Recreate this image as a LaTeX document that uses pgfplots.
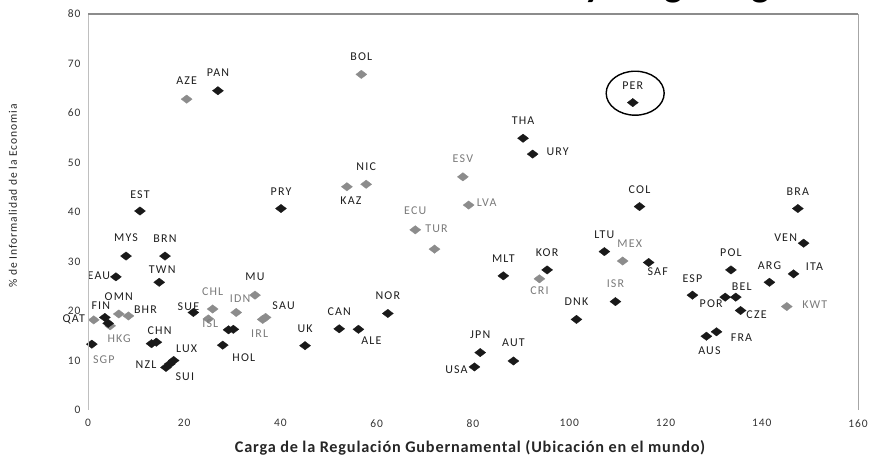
\documentclass[border=0pt]{standalone}
\usepackage{fontspec}
\setmainfont{Carlito}
\newfontfamily\lblfont[LetterSpace=10]{Carlito}
\newfontfamily\tickfont[LetterSpace=8]{Carlito}
\newfontfamily\xlabfont[LetterSpace=5]{Carlito}
\usepackage{pgfplots}
\pgfplotsset{compat=1.18}
\definecolor{graypt}{HTML}{8C8C8C}
\definecolor{lblgray}{HTML}{7A7A7A}
\definecolor{lblblack}{HTML}{1E1E1E}

\pgfplotsset{
  lblpts/.style={
    only marks, mark=diamond*, mark size=4.2bp,
    mark options={xscale=1.75, fill=#1, draw=#1, line width=0.3pt},
    point meta=explicit symbolic,
    nodes near coords,
    visualization depends on={\thisrow{dx}\as\dx},
    visualization depends on={\thisrow{dy}\as\dy},
    every node near coord/.append style={anchor=center, inner sep=0pt, xshift=\dx bp, yshift=\dy bp, font=\lblfont\fontsize{12}{14}\selectfont}
  }
}

\pgfplotstableread{
x y lab dx dy
10.8 40.2 EST 0 16
40.1 40.7 PRY 0 17
27.0 64.5 PAN 0 18
7.9 31.1 MYS 0 18
16.0 31.1 BRN 0 17
5.8 26.9 EAU -17 1
14.8 25.8 TWN 3 13
3.5 18.7 FIN -4 12
13.2 13.4 CHN 8 13
16.2 8.6 NZL -20 3
17.0 9.3 SUI 15 -13
17.8 10.0 LUX 13 12
21.9 19.7 SUE -5 6
28.0 13.1 HOL 21 -13
45.1 13.0 UK 0 17
52.2 16.4 CAN 0 17
56.2 16.3 ALE 13 -11
62.3 19.5 NOR 0 18
90.4 54.9 THA 0 18
92.4 51.7 URY 25 2
86.3 27.1 MLT 0 17
95.4 28.3 KOR 0 17
101.5 18.3 DNK 0 18
81.5 11.6 JPN 0 18
80.3 8.7 USA -18 -3
88.4 9.9 AUT 0 18
113.2 62.1 PER 0 17
114.6 41.1 COL 0 17
147.5 40.7 BRA 0 17
148.7 33.7 VEN -18 6
107.3 32.0 LTU 0 17
116.5 29.8 SAF 9 -9
133.6 28.3 POL 0 17
146.6 27.5 ITA 21 7
141.6 25.8 ARG 0 17
125.6 23.2 ESP 0 16
132.4 22.8 POR -14 -7
134.6 22.8 BEL 6 10
135.6 20.1 CZE 16 -4
130.6 15.8 FRA 25 -6
128.5 14.9 AUS 3 -14
}\blackpts

\pgfplotstableread{
x y lab dx dy
0.8 13.3 SGP 12 -15
109.6 21.9 ISR 0 18
}\blackgraylab

\pgfplotstableread{
x y
4.2 17.5
14.2 13.7
29.2 16.2
30.2 16.3
}\blacknolab

\pgfplotstableread{
x y lab dx dy
20.5 62.8 AZE 0 18
56.8 67.8 BOL 0 18
57.8 45.6 NIC 0 18
53.8 45.1 KAZ 4 -14
6.4 19.4 OMN 0 17
8.4 19.0 BHR 17 6
1.2 18.2 QAT -20 0
34.7 23.2 MU 0 18
36.9 18.7 SAU 18 12
}\grayblacklab

\pgfplotstableread{
x y lab dx dy
68.0 36.4 ECU 0 19
72.0 32.5 TUR 2 20
77.9 47.1 ESV 0 18
79.1 41.4 LVA 18 2
93.8 26.5 CRI 0 -12
111.1 30.1 MEX 7 17
145.2 20.9 KWT 28 2
4.6 17.0 HKG 9 -13
25.9 20.4 CHL 0 17
25.0 18.4 ISL 2 -5
30.8 19.7 IDN 4 14
36.3 18.3 IRL -3 -14
}\graygraylab

\begin{document}
\begin{tikzpicture}
\useasboundingbox (0bp,0bp) rectangle (875bp,464bp);
% partially visible title (cut by the page edge)
\node[anchor=base west, inner sep=0pt, font=\bfseries\fontsize{39}{44}\selectfont, text=black] at (367bp,467.5bp) {Informalidad y Carga Regulatoria};
\begin{axis}[
  at={(88bp,54bp)}, anchor=south west,
  scale only axis, width=770bp, height=396bp,
  xmin=0, xmax=160, ymin=0, ymax=80,
  xtick={0,20,...,160}, ytick={0,10,...,80},
  axis line style={draw=none},
  major tick length=0pt,
  tick style={draw=none},
  clip=false,
  /pgf/number format/assume math mode=true,
  ticklabel style={font=\tickfont\fontsize{11.5}{13}\selectfont, text=black!80},
  xticklabel style={yshift=-6bp},
  yticklabel style={xshift=-4bp},
]
\addplot[lblpts=graypt, every node near coord/.append style={text=lblblack}] table[x=x, y=y, meta=lab] {\grayblacklab};
\addplot[lblpts=graypt, every node near coord/.append style={text=lblgray}] table[x=x, y=y, meta=lab] {\graygraylab};
\addplot[only marks, mark=diamond*, mark size=4.2bp,
  mark options={xscale=1.75, fill=black!90, draw=black!90, line width=0.3pt}
] table[x=x, y=y] {\blacknolab};
\addplot[lblpts=black!90, every node near coord/.append style={text=lblgray}] table[x=x, y=y, meta=lab] {\blackgraylab};
\addplot[lblpts=black!90, every node near coord/.append style={text=lblblack}] table[x=x, y=y, meta=lab] {\blackpts};
\draw[black, line width=1.4bp] (axis cs:113.7,64.0) ellipse [x radius=29bp, y radius=22bp];
\end{axis}
% plot-area frame (no bottom line)
\draw[black!25, line width=1bp] (88bp,54bp) -- (88bp,450bp);
\draw[black!45, line width=1.4bp] (88bp,450bp) -- (858bp,450bp);
\draw[black!35, line width=1bp] (858bp,450bp) -- (858bp,54bp);
% axis titles
\node[font=\xlabfont\bfseries\fontsize{16.3}{19}\selectfont, text=black!85] at (470bp,16bp) {Carga de la Regulación Gubernamental (Ubicación en el mundo)};
\node[rotate=90, font=\tickfont\fontsize{11.6}{13}\selectfont, text=black!85] at (13bp,268bp) {\% de Informalidad de la Economia};
\end{tikzpicture}
\end{document}
